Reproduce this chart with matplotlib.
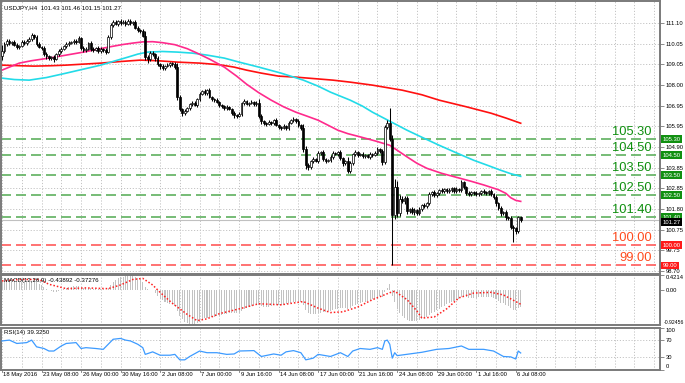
import numpy as np
import matplotlib
matplotlib.use('Agg')
import matplotlib.pyplot as plt
import matplotlib.transforms as mtransforms

plt.rcParams['font.family'] = ['Liberation Sans', 'DejaVu Sans']

# Fiyat verisi (H4 mumlar), kapanislar
open0 = 109.45
closes = [
    109.70, 110.05, 110.20, 110.10, 110.15, 110.00, 109.90, 109.95, 110.15, 110.10,
    110.20, 110.30, 110.50, 110.40, 110.05, 109.90, 109.85, 109.55, 109.45, 109.35,
    109.40, 109.30, 109.55, 109.70, 109.80, 109.95, 110.05, 110.10, 110.15, 110.20,
    110.15, 110.35, 109.85, 109.75, 109.80, 110.10, 109.80, 109.75, 109.85, 109.70,
    109.80, 109.75, 109.65, 110.40, 111.00, 111.15, 111.05, 111.20, 111.10, 111.15,
    111.05, 111.20, 111.10, 111.15, 110.85, 110.75, 110.70, 110.45, 109.40, 109.30,
    109.60, 109.55, 109.35, 109.05, 108.95, 108.85, 108.95, 109.00, 109.10, 109.05,
    108.90, 107.40, 106.80, 106.60, 106.70, 106.85, 107.05, 107.10, 107.00, 107.30,
    107.55, 107.70, 107.60, 107.75, 107.40, 107.30, 107.25, 107.15, 107.00, 106.95,
    106.85, 106.90, 106.80, 106.60, 106.50, 106.45, 106.55, 107.10, 107.20, 107.05,
    107.10, 107.15, 107.05, 107.10, 106.45, 106.20, 106.10, 106.05, 106.15, 106.10,
    106.25, 106.00, 105.90, 105.85, 105.95, 105.85, 106.10, 106.25, 106.30, 106.20,
    106.00, 105.85, 104.80, 104.00, 103.90, 104.20, 104.30, 104.20, 104.60, 104.65,
    104.30, 104.20, 104.25, 104.40, 104.60, 104.55, 104.65, 104.35, 104.10, 104.20,
    103.70, 104.10, 104.55, 104.65, 104.50, 104.55, 104.45, 104.50, 104.40, 104.55,
    104.50, 104.60, 104.80, 104.70, 104.15, 105.90, 106.10, 105.30, 101.50, 102.90,
    101.60, 102.30, 102.20, 102.35, 101.70, 101.80, 101.65, 101.75, 101.60, 101.80,
    102.00, 101.95, 102.10, 102.55, 102.65, 102.50, 102.60, 102.75, 102.70, 102.80,
    102.70, 102.75, 102.85, 102.70, 102.80, 102.75, 103.15, 102.90, 102.60, 102.55,
    102.65, 102.60, 102.55, 102.60, 102.70, 102.65, 102.60, 102.70, 102.55, 102.40,
    102.10, 101.85, 101.60, 101.65, 101.40, 101.35, 100.90, 100.85, 100.70, 101.43,
    101.27]

# fitil uzunluklari (pip)
up_wick = [
    30, 10, 8, 12, 6, 10, 8, 6, 10, 12,
    8, 10, 12, 6, 8, 10, 6, 8, 10, 6,
    8, 10, 6, 12, 8, 6, 10, 8, 6, 10,
    8, 10, 6, 8, 10, 6, 8, 12, 6, 10,
    8, 6, 10, 12, 10, 8, 12, 6, 10, 8,
    10, 12, 8, 6, 10, 8, 6, 10, 25, 12,
    10, 8, 6, 10, 8, 12, 6, 10, 8, 6,
    10, 20, 12, 8, 10, 6, 8, 10, 12, 8,
    10, 8, 12, 6, 10, 8, 6, 10, 8, 6,
    8, 10, 6, 8, 10, 6, 12, 8, 10, 6,
    8, 10, 6, 12, 20, 10, 8, 6, 10, 8,
    6, 10, 8, 6, 10, 8, 12, 6, 10, 8,
    10, 8, 20, 15, 10, 8, 10, 6, 12, 8,
    10, 6, 8, 10, 12, 6, 8, 10, 8, 6,
    20, 10, 8, 10, 6, 8, 10, 6, 8, 10,
    6, 10, 12, 8, 10, 10, 15, 75, 20, 40,
    30, 20, 15, 12, 10, 8, 12, 10, 8, 10,
    8, 10, 6, 12, 8, 10, 6, 8, 10, 8,
    6, 10, 8, 6, 10, 8, 12, 8, 6, 10,
    8, 6, 10, 8, 6, 10, 8, 6, 10, 8,
    10, 8, 12, 6, 10, 8, 12, 10, 8, 6,
    3]
low_wick = [
    20, 10, 12, 8, 10, 6, 12, 8, 6, 10,
    8, 6, 10, 12, 8, 6, 10, 8, 12, 10,
    8, 12, 6, 10, 8, 6, 10, 8, 6, 10,
    8, 6, 10, 12, 8, 6, 10, 8, 6, 10,
    8, 12, 10, 6, 8, 10, 6, 8, 12, 6,
    8, 6, 10, 8, 6, 10, 8, 6, 15, 20,
    8, 10, 12, 8, 15, 10, 8, 6, 10, 8,
    10, 15, 10, 12, 8, 6, 10, 8, 6, 10,
    8, 6, 10, 8, 6, 10, 8, 6, 10, 8,
    10, 8, 6, 10, 12, 8, 6, 10, 8, 6,
    8, 6, 10, 8, 10, 12, 8, 10, 6, 8,
    10, 6, 8, 10, 6, 8, 10, 6, 8, 10,
    8, 10, 15, 20, 15, 10, 8, 6, 10, 8,
    8, 10, 6, 8, 10, 6, 8, 10, 12, 8,
    10, 8, 6, 10, 8, 6, 10, 8, 6, 10,
    8, 6, 10, 8, 15, 10, 8, 10, 250, 20,
    20, 15, 10, 12, 15, 10, 8, 12, 10, 8,
    10, 8, 6, 10, 8, 6, 10, 8, 6, 10,
    8, 6, 10, 8, 6, 10, 8, 6, 10, 8,
    6, 10, 8, 6, 10, 8, 6, 10, 8, 10,
    12, 10, 15, 10, 12, 8, 10, 70, 12, 10,
    12]

# Hareketli ortalamalar (bar, fiyat)
ma_fast_x = [0, 4, 7, 12, 19, 26, 33, 39, 44, 49, 53, 57, 61, 65, 70, 75, 79, 84, 90, 95, 99, 104, 109,
             114, 119, 124, 128, 132, 136, 140, 145, 151, 157, 160, 164, 168, 172, 178, 184, 190, 195,
             198, 201, 204, 206, 208, 210]
ma_fast_y = [108.75, 108.95, 109.10, 109.22, 109.35, 109.50, 109.65, 109.80, 109.92, 110.03, 110.10,
             110.16, 110.17, 110.12, 110.02, 109.82, 109.60, 109.30, 108.90, 108.45, 108.05, 107.62,
             107.25, 106.92, 106.65, 106.43, 106.25, 106.00, 105.75, 105.58, 105.42, 105.22, 105.00,
             104.75, 104.42, 104.10, 103.85, 103.60, 103.40, 103.20, 103.02, 102.90, 102.78, 102.60,
             102.38, 102.25, 102.20]
ma_mid_x = [0, 5, 11, 18, 26, 33, 40, 46, 51, 55, 59, 65, 71, 77, 83, 90, 96, 104, 113, 122, 128, 133,
            137, 141, 146, 150, 157, 164, 170, 177, 184, 191, 197, 202, 206, 210]
ma_mid_y = [108.35, 108.28, 108.25, 108.38, 108.60, 108.80, 109.00, 109.22, 109.40, 109.55, 109.65,
            109.68, 109.65, 109.60, 109.50, 109.35, 109.15, 108.90, 108.60, 108.25, 107.95, 107.65,
            107.45, 107.25, 106.95, 106.65, 106.20, 105.75, 105.40, 105.00, 104.62, 104.25, 103.98,
            103.75, 103.58, 103.45]
ma_slow_x = [0, 7, 13, 20, 26, 33, 40, 48, 56, 63, 71, 80, 88, 94, 99, 105, 112, 119, 126, 134, 141,
             150, 162, 170, 177, 188, 198, 204, 210]
ma_slow_y = [109.00, 108.97, 108.95, 108.97, 109.00, 109.05, 109.10, 109.18, 109.25, 109.22, 109.15,
             109.10, 109.02, 108.90, 108.75, 108.60, 108.45, 108.40, 108.33, 108.25, 108.15, 108.00,
             107.75, 107.52, 107.25, 106.92, 106.60, 106.36, 106.10]

# Destek / direnc seviyeleri
green_levels = [105.30, 104.50, 103.50, 102.50, 101.40]
red_levels = [100.00, 99.00]
last_price = 101.27

price_ticks = [111.10, 110.05, 109.05, 108.00, 106.95, 105.95, 104.90, 103.85, 102.85, 101.80, 100.75, 99.75, 98.70]

# MACD ana cizgi (histogram)
macd_main = [
    0.24, 0.26, 0.27, 0.27, 0.26, 0.25, 0.23, 0.22, 0.22, 0.22,
    0.23, 0.24, 0.26, 0.26, 0.23, 0.19, 0.15, 0.10, 0.05, 0.01,
    -0.02, -0.04, -0.03, -0.01, 0.02, 0.05, 0.07, 0.09, 0.10, 0.11,
    0.11, 0.13, 0.10, 0.08, 0.07, 0.08, 0.06, 0.05, 0.05, 0.04,
    0.04, 0.03, 0.02, 0.07, 0.15, 0.23, 0.28, 0.33, 0.36, 0.38,
    0.40, 0.42, 0.42, 0.41, 0.38, 0.34, 0.30, 0.22, 0.10, 0.03,
    0.02, 0.00, -0.06, -0.15, -0.22, -0.27, -0.30, -0.33, -0.36, -0.38,
    -0.42, -0.55, -0.68, -0.78, -0.85, -0.88, -0.90, -0.92, -0.90, -0.88,
    -0.85, -0.80, -0.76, -0.74, -0.73, -0.72, -0.71, -0.70, -0.68, -0.66,
    -0.64, -0.63, -0.62, -0.62, -0.62, -0.61, -0.60, -0.55, -0.50, -0.47,
    -0.44, -0.42, -0.40, -0.38, -0.40, -0.42, -0.44, -0.45, -0.44, -0.42,
    -0.40, -0.40, -0.40, -0.40, -0.39, -0.38, -0.35, -0.33, -0.31, -0.30,
    -0.30, -0.31, -0.40, -0.52, -0.60, -0.63, -0.64, -0.64, -0.62, -0.60,
    -0.59, -0.58, -0.57, -0.55, -0.53, -0.51, -0.49, -0.48, -0.48, -0.47,
    -0.49, -0.47, -0.43, -0.40, -0.37, -0.34, -0.32, -0.30, -0.28, -0.26,
    -0.24, -0.22, -0.19, -0.16, -0.17, -0.05, 0.08, 0.19, -0.15, -0.32,
    -0.50, -0.60, -0.68, -0.74, -0.79, -0.82, -0.84, -0.84, -0.83, -0.81,
    -0.78, -0.75, -0.72, -0.67, -0.62, -0.58, -0.53, -0.49, -0.45, -0.41,
    -0.37, -0.34, -0.31, -0.29, -0.26, -0.24, -0.19, -0.18, -0.19, -0.20,
    -0.20, -0.20, -0.20, -0.19, -0.18, -0.18, -0.18, -0.17, -0.18, -0.20,
    -0.24, -0.28, -0.33, -0.35, -0.39, -0.42, -0.47, -0.52, -0.54, -0.47,
    -0.44]
sig_x = [0, 7, 15, 19, 26, 34, 43, 48, 53, 57, 61, 64, 69, 75, 79, 83, 88, 96, 104, 113, 117, 122, 128, 133,
         138, 144, 150, 157, 159, 164, 168, 170, 175, 180, 185, 191, 198, 203, 210]
sig_y = [0.26, 0.30, 0.30, 0.17, 0.05, 0.07, 0.05, 0.15, 0.30, 0.33, 0.15, -0.05, -0.35, -0.65, -0.82, -0.77,
         -0.63, -0.50, -0.36, -0.39, -0.35, -0.30, -0.48, -0.60, -0.58, -0.45, -0.25, -0.06, -0.02, -0.25,
         -0.56, -0.75, -0.72, -0.50, -0.20, -0.07, -0.05, -0.12, -0.37276]

# RSI(14)
rsi_x = [0, 3, 6, 10, 12, 14, 17, 19, 21, 24, 26, 30, 32, 34, 38, 41, 43, 45, 48, 50, 52, 55, 57, 58, 61,
         64, 68, 70, 72, 74, 76, 80, 83, 87, 91, 94, 96, 102, 105, 110, 113, 115, 118, 121, 123, 126, 128,
         133, 137, 140, 142, 145, 149, 152, 154, 155, 156, 157, 158, 159, 160, 165, 170, 176, 181, 186, 189,
         195, 199, 203, 206, 208, 209, 210]
rsi_y = [68, 70, 62, 64, 70, 54, 50, 44, 44, 56, 62, 64, 50, 52, 50, 48, 60, 72, 74, 70, 68, 60, 52, 36, 42,
         34, 34, 36, 23, 23, 31, 44, 40, 40, 36, 37, 44, 45, 31, 37, 34, 42, 45, 40, 23, 27, 36,
         31, 40, 31, 44, 50, 48, 52, 48, 68, 70, 60, 27, 40, 33, 37, 41, 48, 50, 56, 48,
         48, 44, 31, 30, 25, 44, 39.325]

date_labels = ['18 May 2016', '23 May 08:00', '26 May 00:00', '30 May 16:00', '2 Jun 08:00', '7 Jun 00:00',
               '9 Jun 16:00', '14 Jun 08:00', '17 Jun 00:00', '21 Jun 16:00', '24 Jun 08:00', '29 Jun 00:00',
               '1 Jul 16:00', '6 Jul 08:00']

# --- cizim ---
W, H = 685, 383
fig = plt.figure(figsize=(W / 100, H / 100), dpi=100)
fig.patch.set_facecolor('white')

def box(x0, y0, x1, y1):
    return [x0 / W, 1 - y1 / H, (x1 - x0) / W, (y1 - y0) / H]

ax = fig.add_axes(box(1, 1, 660, 273.5))
ax2 = fig.add_axes(box(1, 275, 660, 324.5))
ax3 = fig.add_axes(box(1, 327.5, 660, 369.5))

xmin, xmax = -0.4, 266.4
grid_x = np.arange(0, 266, 8)
label_x = np.arange(0, 16 * len(date_labels), 16)
grid_kw = dict(color='#c4c4c4', lw=0.7, linestyle=(0, (1.2, 1.8)))
frame = '#7a7a7a'

for a in (ax, ax2, ax3):
    a.set_xlim(xmin, xmax)
    for s in a.spines.values():
        s.set_color(frame)
        s.set_linewidth(1.4)
    for gx in grid_x:
        a.axvline(gx, zorder=0, **grid_kw)
    a.set_xticks([])
    a.yaxis.tick_right()
    a.tick_params(axis='y', length=3, width=0.6, color=frame, labelsize=4.2, pad=1.2)

# ana grafik
x = np.arange(len(closes))
c = np.array(closes)
o = np.concatenate([[open0], c[:-1]])
top = np.maximum(o, c)
bot = np.minimum(o, c)
hi = top + np.array(up_wick) / 100
lo = bot - np.array(low_wick) / 100
bull = c >= o

ax.set_ylim(98.6, 112.2)
ax.set_yticks(price_ticks)
ax.set_yticklabels(['%.2f' % t for t in price_ticks])
for t in price_ticks:
    ax.axhline(t, zorder=0, **grid_kw)

for lv in green_levels:
    ax.axhline(lv, color='#5fb05f', lw=1.2, linestyle=(0, (6, 3)), zorder=1)
for lv in red_levels:
    ax.axhline(lv, color='#ff5a5a', lw=1.2, linestyle=(0, (6, 3)), zorder=1)
ax.axhline(last_price, color='#c0c0c0', lw=0.8, zorder=1)

ax.plot(ma_slow_x, ma_slow_y, color='#ff1010', lw=1.2, zorder=2)
ax.plot(ma_mid_x, ma_mid_y, color='#22dbe8', lw=1.2, zorder=2)
ax.plot(ma_fast_x, ma_fast_y, color='#ff2a8c', lw=1.2, zorder=2)

ax.vlines(x, lo, hi, color='black', lw=0.75, zorder=3)
ax.bar(x[bull], (top - bot)[bull], bottom=bot[bull], width=0.72, facecolor='white',
       edgecolor='black', lw=0.5, zorder=4)
ax.bar(x[~bull], (top - bot)[~bull], bottom=bot[~bull], width=0.72, facecolor='black',
       edgecolor='black', lw=0.5, zorder=4)

trans = mtransforms.blended_transform_factory(ax.transAxes, ax.transData)
for lv in green_levels:
    ax.text(0.987, lv + 0.08, '%.2f' % lv, transform=trans, ha='right', va='bottom',
            fontsize=9.3, color='#0f8f0f', zorder=6)
    ax.text(1.004, lv, '%.2f' % lv, transform=trans, ha='left', va='center', fontsize=4.2,
            color='white', zorder=7, clip_on=False,
            bbox=dict(boxstyle='square,pad=0.25', fc='#119011', ec='none'))
for lv in red_levels:
    ax.text(0.987, lv + 0.08, '%.2f' % lv, transform=trans, ha='right', va='bottom',
            fontsize=9.3, color='#ff4a1c', zorder=6)
    ax.text(1.004, lv, '%.2f' % lv, transform=trans, ha='left', va='center', fontsize=4.2,
            color='white', zorder=7, clip_on=False,
            bbox=dict(boxstyle='square,pad=0.25', fc='#ff1a1a', ec='none'))
ax.text(1.004, last_price - 0.12, '%.2f' % last_price, transform=trans, ha='left', va='center',
        fontsize=4.2, color='white', zorder=8, clip_on=False,
        bbox=dict(boxstyle='square,pad=0.25', fc='black', ec='none'))

ax.text(0.004, 0.985, 'USDJPY,H4  101.43 101.46 101.15 101.27', transform=ax.transAxes,
        ha='left', va='top', fontsize=4.4, color='black', zorder=9)

# MACD
ax2.set_ylim(-0.92456, 0.4214)
ax2.bar(x, macd_main, width=0.42, color='#c2c2c2', zorder=2)
ax2.plot(sig_x, sig_y, color='#ff2020', lw=1.1, linestyle=(0, (1, 1.3)), zorder=3)
ax2.set_yticks([0.4214, 0.0])
ax2.set_yticklabels(['0.4214', '0.00'])
ax2.get_yticklabels()[0].set_va('top')
# alt etiket sag kenara sigsin diye ayri yazildi
ax2.text(1.005, 0.0, '-0.92456', transform=ax2.transAxes, ha='left', va='bottom',
         fontsize=3.7, color='black', clip_on=False)
ax2.text(0.004, 0.93, 'MACD(12,26,9) -0.43892 -0.37276', transform=ax2.transAxes,
         ha='left', va='top', fontsize=4.4, color='black', zorder=5)

# RSI
ax3.set_ylim(0, 100)
for lvl in (70, 30):
    ax3.axhline(lvl, zorder=0, **grid_kw)
ax3.plot(rsi_x, rsi_y, color='#3d9bff', lw=0.9, zorder=3)
ax3.set_yticks([100, 70, 30, 0])
ax3.set_yticklabels(['100', '70', '30', '0'])
lbl = ax3.get_yticklabels()
lbl[0].set_va('top')
lbl[3].set_va('bottom')
ax3.text(0.004, 0.93, 'RSI(14) 39.3250', transform=ax3.transAxes,
         ha='left', va='top', fontsize=4.4, color='black', zorder=5)

# tarih etiketleri
off = mtransforms.ScaledTranslation(1.5 / 100, -2.5 / 100, fig.dpi_scale_trans)
dtrans = mtransforms.blended_transform_factory(ax3.transData, ax3.transAxes) + off
for lx, lab in zip(label_x, date_labels):
    ax3.text(lx, 0, lab, transform=dtrans, ha='left', va='top', fontsize=4.2, clip_on=False)
    ax3.plot([lx, lx], [0, -0.07], transform=mtransforms.blended_transform_factory(ax3.transData, ax3.transAxes),
             color=frame, lw=0.6, clip_on=False)

fig.savefig('out.png', dpi=100)
